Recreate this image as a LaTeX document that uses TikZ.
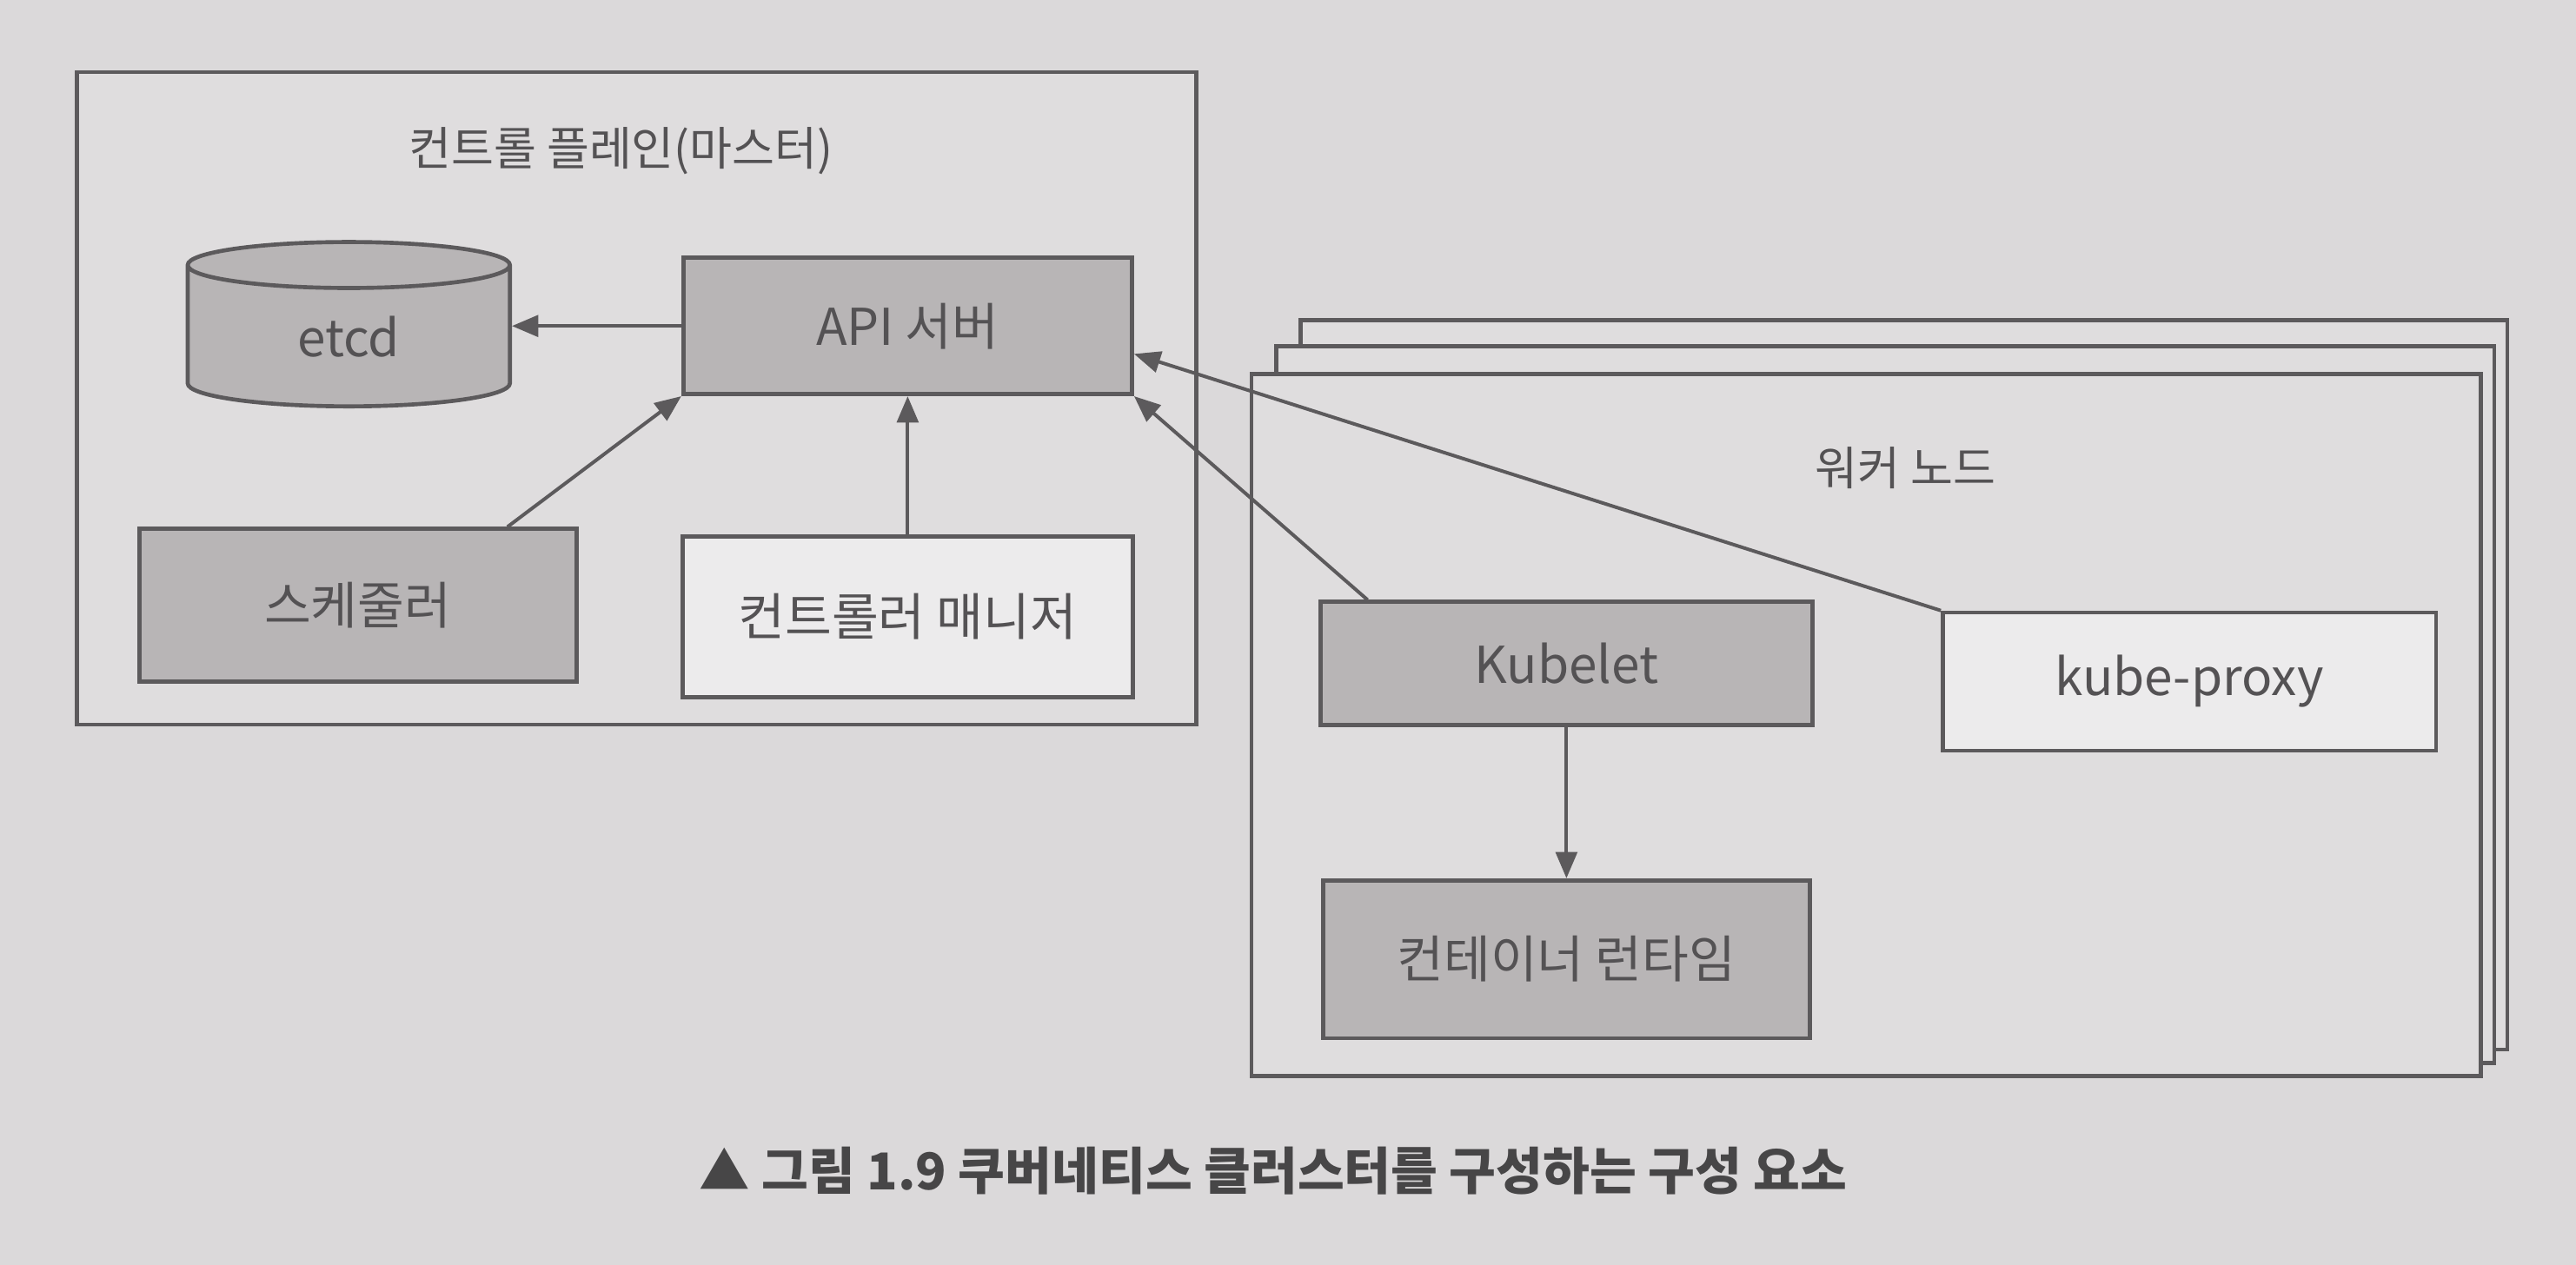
\documentclass[tikz,border=0pt]{standalone}
\usepackage{fontspec}
\setmainfont{Noto Sans CJK KR}
\usepackage{tikz}
\usetikzlibrary{
  arrows.meta,
  positioning,
  shapes.geometric
}
\definecolor{papergray}{RGB}{219,217,218}
\definecolor{panelgray}{RGB}{223,221,222}
\definecolor{boxgray}{RGB}{184,181,182}
\definecolor{boxwhite}{RGB}{236,235,236}
\definecolor{linegray}{RGB}{92,90,92}
\definecolor{textgray}{RGB}{84,82,84}

\begin{document}
\begin{tikzpicture}[x=0.01cm, y=-0.01cm,
  block/.style={draw=linegray, line width=0.7pt, align=center, inner sep=0pt,
                font=\fontsize{8.8}{11}\selectfont, text=textgray},
  panel/.style={draw=linegray, line width=0.7pt, fill=panelgray, inner sep=0pt},
  title/.style={font=\fontsize{8}{10}\selectfont, text=textgray, inner sep=0pt},
  arr/.style={-{Triangle[length=1.6mm, width=1.3mm]}, line width=0.6pt, draw=linegray}
]
  % Page
  \fill[papergray] (0,0) rectangle (1568,770);
  \useasboundingbox (0,0) rectangle (1568,770);

  % Control plane
  \node[panel, minimum width=6.81cm, minimum height=3.97cm] (cp) at (387.5,242.5) {};
  \node[title, below=0.34cm of cp.north, xshift=-0.095cm] (cptitle) {컨트롤 플레인(마스터)};
  % API server
  \node[block, fill=boxgray, minimum width=2.73cm, minimum height=0.83cm] (api) at (552.5,198.5) {API 서버};
  % etcd
  \node[block, fill=boxgray, cylinder, shape border rotate=90, aspect=0.45,
        minimum width=1.96cm, minimum height=1.0cm, left=1.03cm of api, yshift=-0.065cm] (etcd) {etcd};
  % Controller manager
  \node[block, fill=boxwhite, minimum width=2.74cm, minimum height=0.98cm, below=0.84cm of api] (ctrl) {컨트롤러 매니저};
  % Scheduler
  \node[block, fill=boxgray, minimum width=2.66cm, minimum height=0.93cm, left=0.62cm of ctrl, yshift=0.07cm] (sched) {스케줄러};

  % Worker nodes (stacked)
  \node[panel, minimum width=7.34cm, minimum height=4.44cm] (wkback) at (1159,417) {};
  \node[panel, minimum width=7.41cm, minimum height=4.36cm] (wkmid) at (1147.5,429) {};
  \node[panel, minimum width=7.48cm, minimum height=4.27cm] (wk) at (1136,441.5) {};
  \node[title, below=0.45cm of wk.north, xshift=0.24cm] (wktitle) {워커 노드};
  % Kubelet
  \node[block, fill=boxgray, minimum width=2.99cm, minimum height=0.75cm] (kubelet) at (953.5,404) {Kubelet};
  % kube-proxy
  \node[block, fill=boxwhite, minimum width=3.0cm, minimum height=0.84cm, right=0.77cm of kubelet, yshift=-0.11cm] (proxy) {kube-proxy};
  % Container runtime
  \node[block, fill=boxgray, minimum width=2.96cm, minimum height=0.96cm, below=0.92cm of kubelet] (runtime) {컨테이너 런타임};

  \draw[arr] (api.west) -- (etcd.east |- api.west);
  \draw[arr] ([xshift=0.91cm]sched.north) -- (api.south west);
  \draw[arr] (ctrl.north) -- (api.south);
  \draw[arr] ([xshift=-1.21cm]kubelet.north) -- (api.south east);
  \draw[arr] (proxy.north west) -- ([yshift=-0.17cm]api.east);
  \draw[arr] (kubelet.south) -- (kubelet.south |- runtime.north);

  % Caption
  \node[font=\bfseries\fontsize{8.8}{10}\selectfont, text=textgray!85!black, inner sep=0pt] (caption) at (775,713)
    {▲ 그림 1.9 쿠버네티스 클러스터를 구성하는 구성 요소};
\end{tikzpicture}
\end{document}
